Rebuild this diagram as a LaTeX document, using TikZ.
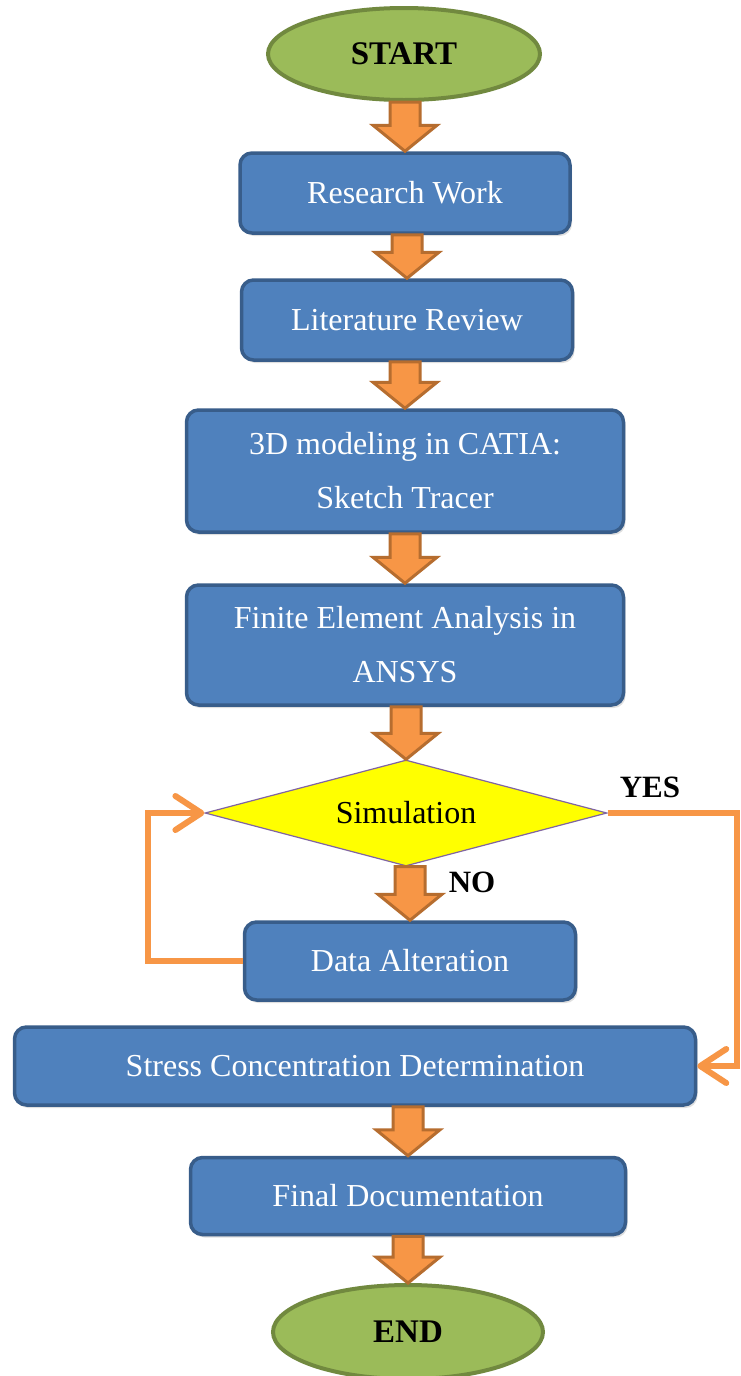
\documentclass[tikz,border=0pt]{standalone}
\usepackage{fontspec}
\setmainfont{Liberation Serif}
\usetikzlibrary{shapes.geometric,arrows.meta,calc,shadows}
\definecolor{boxfill}{HTML}{4F81BD}
\definecolor{boxline}{HTML}{385D8A}
\definecolor{ellfill}{HTML}{9BBB59}
\definecolor{ellline}{HTML}{71893F}
\definecolor{arrfill}{HTML}{F79646}
\definecolor{arrline}{HTML}{B66D2F}
\definecolor{diamline}{HTML}{8064A2}
\definecolor{diamfill}{HTML}{FFFF00}
\tikzset{
 procbox/.style={draw=boxline, fill=boxfill, line width=3.5pt, rounded corners=12pt, text=white,
   font=\fontsize{32}{54}\selectfont, align=center, inner sep=0pt,
   drop shadow={opacity=0.25, shadow xshift=2pt, shadow yshift=-3pt}},
 term/.style={ellipse, draw=ellline, fill=ellfill, line width=4pt,
   font=\fontsize{33}{38}\selectfont\bfseries, inner sep=0pt},
 decision/.style={diamond, draw=diamline, fill=diamfill, line width=1.2pt,
   font=\fontsize{32}{38}\selectfont, inner sep=0pt, aspect=4},
 barrow/.style={draw=arrline, fill=arrfill, line width=3pt, line join=miter},
 loopline/.style={draw=arrfill, line width=6pt,
   -{Straight Barb[length=26pt,width=34pt,line cap=round,line join=round]}},
 lbl/.style={font=\fontsize{31}{37}\selectfont\bfseries, inner sep=0pt}
}
\newcommand\blockarr[2]{%
 \draw[barrow] let \p1=(#1.south), \p2=(#2.north) in
  (\x2-15pt,\y1) -- (\x2+15pt,\y1) -- (\x2+15pt,\y2+26pt) -- (\x2+32pt,\y2+26pt)
  -- (\x2,\y2) -- (\x2-32pt,\y2+26pt) -- (\x2-15pt,\y2+26pt) -- cycle;}
\begin{document}
\begin{tikzpicture}[x=1pt,y=-1pt]
\useasboundingbox[fill=white] (0,0) rectangle (740,1376);
\node[term, minimum width=272pt, minimum height=92pt] (start) at (404,54) {START};
\node[procbox, minimum width=330pt, minimum height=80pt] (research) at (405,193) {Research Work};
\node[procbox, minimum width=331pt, minimum height=80pt] (lit) at (407,320) {Literature Review};
\node[procbox, minimum width=437pt, minimum height=122pt] (model) at (405,471) {3D modeling in CATIA:\\Sketch Tracer};
\node[procbox, minimum width=437pt, minimum height=120pt] (fea) at (405,645) {Finite Element Analysis in\\ANSYS};
\node[decision, minimum width=402pt, minimum height=106pt] (sim) at (406,813) {Simulation};
\node[procbox, minimum width=331pt, minimum height=78pt] (data) at (410,961) {Data Alteration};
\node[procbox, minimum width=681pt, minimum height=78pt] (stress) at (355,1066) {Stress Concentration Determination};
\node[procbox, minimum width=435pt, minimum height=77pt] (final) at (408,1196) {Final Documentation};
\node[term, minimum width=270pt, minimum height=94pt] (end) at (408,1332) {END};

\blockarr{start}{research}
\blockarr{research}{lit}
\blockarr{lit}{model}
\blockarr{model}{fea}
\blockarr{fea}{sim}
\blockarr{sim}{data}
\blockarr{stress}{final}
\blockarr{final}{end}

\node[lbl] (yes) at (650,787) {YES};
\node[lbl] (no) at (472,882) {NO};

\coordinate (lx) at (148,0);
\coordinate (rx) at (737,0);
\draw[loopline] (data.west) -- (data.west -| lx) |- (sim.west);
\draw[loopline] (sim.east) -- (sim.east -| rx) |- (stress.east);
\end{tikzpicture}
\end{document}
